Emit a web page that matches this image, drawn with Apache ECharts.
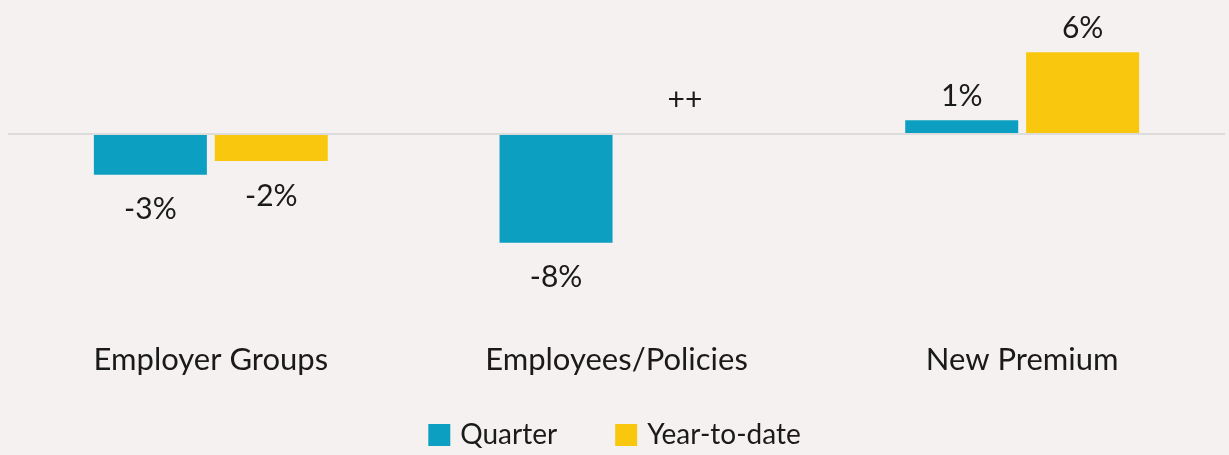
<!DOCTYPE html>
<html><head><meta charset="utf-8">
<script src="https://cdn.jsdelivr.net/npm/echarts@6/dist/echarts.min.js"></script>
<style>html,body{margin:0;padding:0;background:#f5f1f0}#c{width:1229px;height:455px}</style>
</head><body><div id="c"></div>
<script>
const categories = ['Employer Groups', 'Employees/Policies', 'New Premium'];
const quarterValues = [-3, -8, 1];
const ytdValues = [-2, 0, 6];
const quarterLabels = ['-3%', '-8%', '1%'];
const ytdLabels = ['-2%', '++', '6%'];
const seriesNames = ['Quarter', 'Year-to-date'];

const FONT = 'Lato, "Noto Sans", sans-serif';
function makeData(vals, labels) {
  return vals.map((v, i) => ({
    value: v,
    label: {
      position: v < 0 ? 'bottom' : 'top',
      distance: v < 0 ? 20 : (labels[i] === '++' ? 19 : 9),
      offset: labels[i] === '++' ? [8, 0] : [0, 0],
      formatter: labels[i]
    }
  }));
}
const chart = echarts.init(document.getElementById('c'));
chart.setOption({
  backgroundColor: '#f5f1f0',
  animation: false,
  grid: { left: 8, right: 4, top: 25, height: 313 },
  legend: {
    bottom: 1, left: 'center', itemWidth: 22, itemHeight: 22, itemGap: 58,
    textStyle: { fontFamily: FONT, fontSize: 28, color: '#1a1a1a', padding: [0, 0, 0, 5] },
    data: seriesNames, icon: 'rect'
  },
  xAxis: {
    type: 'category', data: categories,
    axisLine: { show: false, onZero: false }, axisTick: { show: false },
    axisLabel: { fontFamily: FONT, fontSize: 31, color: '#1a1a1a', margin: 6 }
  },
  yAxis: {
    type: 'value', min: -15, max: 8, show: false, splitLine: { show: false }
  },
  series: [
    {
      name: seriesNames[0], type: 'bar', barWidth: 113, barGap: '7%',
      itemStyle: { color: '#0c9fc1' },
      label: { show: true, fontFamily: FONT, fontSize: 30, color: '#1a1a1a' },
      data: makeData(quarterValues, quarterLabels),
      markLine: {
        silent: true, symbol: 'none', label: { show: false },
        lineStyle: { color: '#dcdcdc', width: 2, type: 'solid' },
        data: [{ yAxis: 0 }]
      }
    },
    {
      name: seriesNames[1], type: 'bar', barWidth: 113,
      itemStyle: { color: '#f9c80e' },
      label: { show: true, fontFamily: FONT, fontSize: 30, color: '#1a1a1a' },
      data: makeData(ytdValues, ytdLabels)
    }
  ]
});
</script></body></html>
